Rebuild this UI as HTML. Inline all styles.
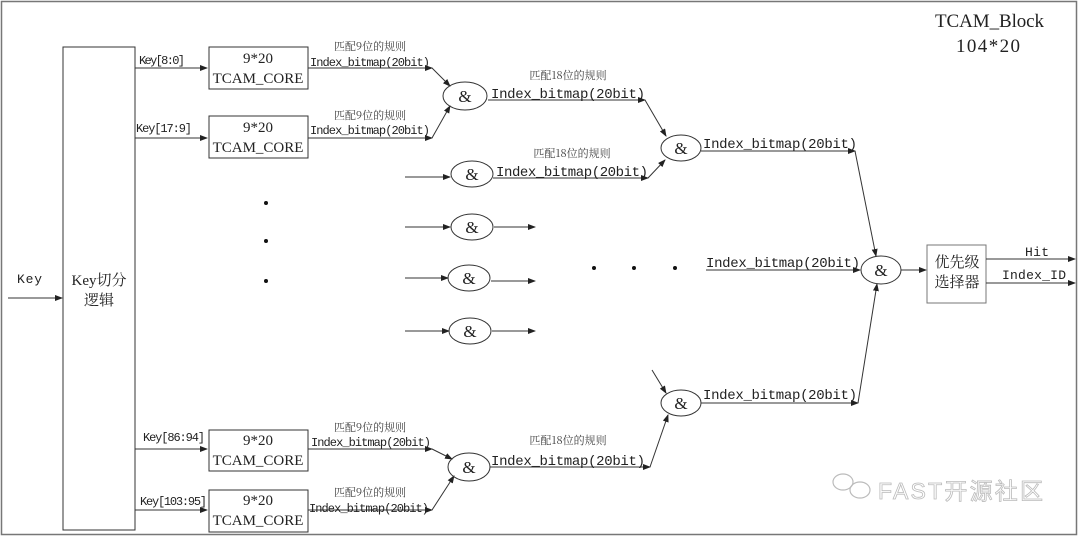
<!DOCTYPE html>
<html><head><meta charset="utf-8"><style>
html,body{margin:0;padding:0;background:#fff;}
svg{display:block;}
.m{font-family:"Liberation Mono","Noto Sans CJK SC",monospace;fill:#222;}
.s{font-family:"Liberation Serif","Noto Serif CJK SC",serif;fill:#222;}
.c{font-family:"Noto Serif CJK SC","Liberation Serif",serif;fill:#444;}
</style></head><body>
<svg width="1080" height="537" viewBox="0 0 1080 537" xmlns="http://www.w3.org/2000/svg">
<defs><marker id="a" markerWidth="8" markerHeight="6" refX="7" refY="3" orient="auto" markerUnits="userSpaceOnUse"><path d="M0,0 L8,3 L0,6 z" fill="#222"/></marker></defs>
<rect x="1.5" y="1.5" width="1075" height="533" fill="none" stroke="#777" stroke-width="1.5"/>
<g stroke="#333" stroke-width="1" fill="none">
<rect x="63" y="47" width="72" height="483"/>
<rect x="209" y="47" width="99" height="42"/>
<rect x="209" y="116" width="99" height="42"/>
<rect x="209" y="430" width="99" height="41"/>
<rect x="209" y="490" width="99" height="42"/>
<rect x="927" y="245" width="59" height="58" stroke="#777"/>
<line x1="8" y1="298" x2="62" y2="298" marker-end="url(#a)"/>
<line x1="135" y1="68" x2="207" y2="68" marker-end="url(#a)"/>
<line x1="135" y1="138" x2="207" y2="138" marker-end="url(#a)"/>
<line x1="135" y1="449" x2="207" y2="449" marker-end="url(#a)"/>
<line x1="135" y1="510" x2="207" y2="510" marker-end="url(#a)"/>
<line x1="308" y1="68" x2="432" y2="68" marker-end="url(#a)"/>
<line x1="308" y1="138" x2="432" y2="138" marker-end="url(#a)"/>
<line x1="308" y1="449" x2="432" y2="449" marker-end="url(#a)"/>
<line x1="308" y1="510" x2="432" y2="510" marker-end="url(#a)"/>
<line x1="432" y1="68" x2="450" y2="86" marker-end="url(#a)"/>
<line x1="432" y1="138" x2="450" y2="106" marker-end="url(#a)"/>
<line x1="432" y1="449" x2="452" y2="459" marker-end="url(#a)"/>
<line x1="432" y1="510" x2="454" y2="476" marker-end="url(#a)"/>
<ellipse cx="465" cy="96" rx="22" ry="14"/>
<ellipse cx="472" cy="174" rx="21" ry="13"/>
<ellipse cx="472" cy="227" rx="21" ry="13"/>
<ellipse cx="469" cy="278" rx="21" ry="13"/>
<ellipse cx="470" cy="331" rx="21" ry="13"/>
<ellipse cx="469" cy="467" rx="21" ry="14"/>
<ellipse cx="681" cy="148" rx="20" ry="13"/>
<ellipse cx="681" cy="403" rx="20" ry="13"/>
<ellipse cx="881" cy="270" rx="20" ry="14"/>
<line x1="405" y1="177" x2="450" y2="177" marker-end="url(#a)"/>
<line x1="405" y1="227" x2="450" y2="227" marker-end="url(#a)"/>
<line x1="405" y1="278" x2="448" y2="278" marker-end="url(#a)"/>
<line x1="405" y1="331" x2="449" y2="331" marker-end="url(#a)"/>
<line x1="494" y1="227" x2="535" y2="227" marker-end="url(#a)"/>
<line x1="491" y1="281" x2="535" y2="281" marker-end="url(#a)"/>
<line x1="492" y1="331" x2="535" y2="331" marker-end="url(#a)"/>
<line x1="488" y1="100" x2="645" y2="100" marker-end="url(#a)"/>
<line x1="493" y1="178" x2="648" y2="178" marker-end="url(#a)"/>
<line x1="490" y1="467" x2="650" y2="467" marker-end="url(#a)"/>
<line x1="645" y1="100" x2="666" y2="136" marker-end="url(#a)"/>
<line x1="648" y1="178" x2="665" y2="160" marker-end="url(#a)"/>
<line x1="652" y1="370" x2="666" y2="393" marker-end="url(#a)"/>
<line x1="650" y1="467" x2="668" y2="415" marker-end="url(#a)"/>
<line x1="701" y1="151" x2="855" y2="151" marker-end="url(#a)"/>
<line x1="855" y1="151" x2="876" y2="256" marker-end="url(#a)"/>
<line x1="706" y1="270" x2="860" y2="270" marker-end="url(#a)"/>
<line x1="701" y1="403" x2="858" y2="403" marker-end="url(#a)"/>
<line x1="858" y1="403" x2="877" y2="284" marker-end="url(#a)"/>
<line x1="901" y1="270" x2="926" y2="270" marker-end="url(#a)"/>
<line x1="986" y1="259" x2="1075" y2="259" marker-end="url(#a)"/>
<line x1="986" y1="283" x2="1075" y2="283" marker-end="url(#a)"/>
</g>
<g fill="#111">
<circle cx="266" cy="203" r="2"/><circle cx="266" cy="241" r="2"/><circle cx="266" cy="281" r="2"/>
<circle cx="594" cy="268" r="2"/><circle cx="634" cy="268" r="2"/><circle cx="675" cy="268" r="2"/>
</g>
<text class="s" x="935" y="27" font-size="19" textLength="109">TCAM_Block</text>
<text class="s" x="956" y="52" font-size="19" textLength="64">104*20</text>
<text class="m" x="17" y="283" font-size="13" textLength="25">Key</text>
<text class="s" x="99" y="285" font-size="15" text-anchor="middle">Key切分</text>
<text class="s" x="99" y="305" font-size="15" text-anchor="middle">逻辑</text>
<g class="m" font-size="12">
<text x="139" y="64" textLength="46">Key[8:0]</text>
<text x="136" y="132" textLength="56">Key[17:9]</text>
<text x="143" y="441" textLength="62">Key[86:94]</text>
<text x="140" y="505" textLength="67">Key[103:95]</text>
</g>
<g class="s" font-size="15" text-anchor="middle">
<text x="258" y="63">9*20</text><text x="258" y="83">TCAM_CORE</text>
<text x="258" y="132">9*20</text><text x="258" y="152">TCAM_CORE</text>
<text x="258" y="445">9*20</text><text x="258" y="465">TCAM_CORE</text>
<text x="258" y="505">9*20</text><text x="258" y="525">TCAM_CORE</text>
</g>
<g class="c" font-size="11" text-anchor="middle">
<text x="370" y="50">匹配9位的规则</text>
<text x="370" y="119">匹配9位的规则</text>
<text x="370" y="431">匹配9位的规则</text>
<text x="370" y="496">匹配9位的规则</text>
<text x="568" y="79">匹配18位的规则</text>
<text x="572" y="157">匹配18位的规则</text>
<text x="568" y="444">匹配18位的规则</text>
</g>
<g class="m" font-size="12">
<text x="310" y="66" textLength="120">Index_bitmap(20bit)</text>
<text x="310" y="134" textLength="120">Index_bitmap(20bit)</text>
<text x="311" y="446" textLength="120">Index_bitmap(20bit)</text>
<text x="309" y="512" textLength="120">Index_bitmap(20bit)</text>
</g>
<g class="m" font-size="14">
<text x="491" y="98" textLength="154">Index_bitmap(20bit)</text>
<text x="496" y="176" textLength="152">Index_bitmap(20bit)</text>
<text x="491" y="465" textLength="154">Index_bitmap(20bit)</text>
<text x="703" y="148" textLength="154">Index_bitmap(20bit)</text>
<text x="706" y="267" textLength="154">Index_bitmap(20bit)</text>
<text x="703" y="399" textLength="154">Index_bitmap(20bit)</text>
</g>
<g class="s" font-size="17" text-anchor="middle">
<text x="465" y="102">&amp;</text><text x="472" y="180">&amp;</text><text x="472" y="233">&amp;</text>
<text x="469" y="284">&amp;</text><text x="470" y="337">&amp;</text><text x="469" y="473">&amp;</text>
<text x="681" y="154">&amp;</text><text x="681" y="409">&amp;</text><text x="881" y="276">&amp;</text>
</g>
<text class="s" x="957" y="267" font-size="15" text-anchor="middle" fill="#444">优先级</text>
<text class="s" x="957" y="287" font-size="15" text-anchor="middle" fill="#444">选择器</text>
<text class="m" x="1025" y="256" font-size="13" textLength="24">Hit</text>
<text class="m" x="1002" y="279" font-size="13" textLength="64">Index_ID</text>
<text x="878" y="499" font-family="Liberation Sans,'Noto Sans CJK SC',sans-serif" font-size="23" fill="#fff" stroke="#bbb" stroke-width="0.8" textLength="165">FAST开源社区</text>
<g fill="none" stroke="#bbb" stroke-width="1.2"><ellipse cx="843" cy="482" rx="10" ry="8"/><ellipse cx="860" cy="490" rx="10" ry="8"/></g>
</svg>
</body></html>
